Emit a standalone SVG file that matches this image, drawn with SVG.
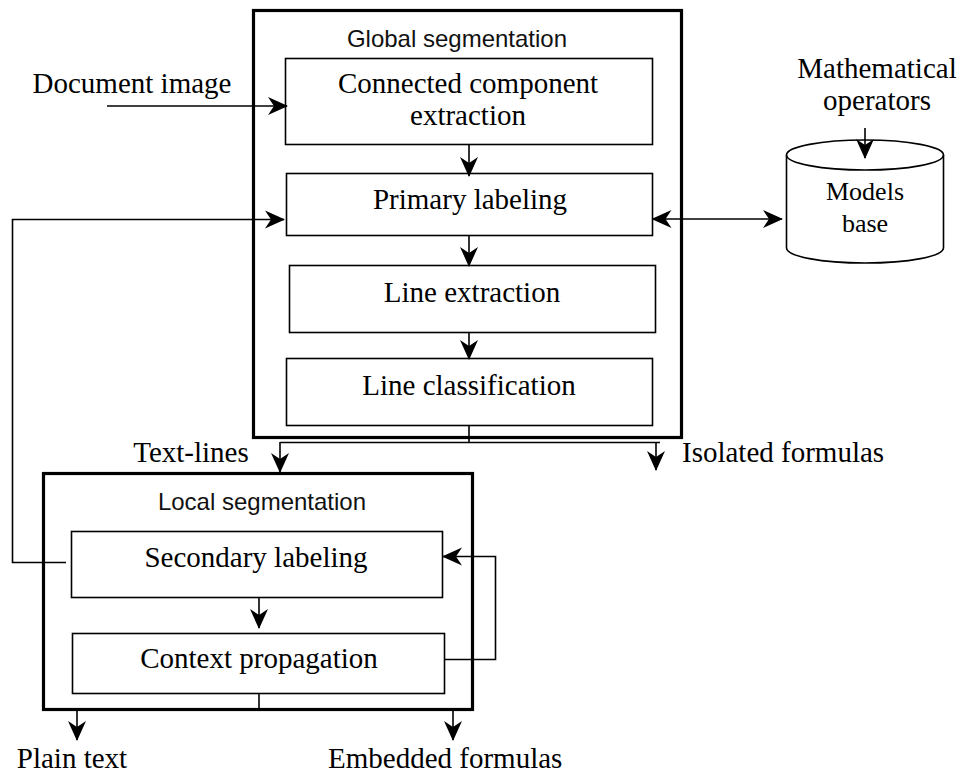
<svg xmlns="http://www.w3.org/2000/svg" width="961" height="775" viewBox="0 0 961 775">
<style>
.box{fill:#fff;stroke:#000;stroke-width:1.6}
.frame{fill:none;stroke:#000;stroke-width:3.2}
.ln{fill:none;stroke:#000;stroke-width:1.6}
.arr{marker-end:url(#ah)}
.serif{font-family:"Liberation Serif","Times New Roman",serif;font-size:29px;fill:#000}
.sans{font-family:"Liberation Sans",Arial,sans-serif;font-size:24px;fill:#111}
.mid{text-anchor:middle}
</style>
<defs>
<marker id="ah" viewBox="0 0 20 20" refX="19" refY="10" markerWidth="20" markerHeight="20" orient="auto-start-reverse" markerUnits="userSpaceOnUse">
<path d="M0,1 L20,10 L0,19 L6,10 Z" fill="#000"/>
</marker>
</defs>
<rect width="961" height="775" fill="#fff"/>

<g id="global-segmentation">
<rect class="frame" x="253.5" y="10.5" width="428" height="427"/>
<text class="sans mid" x="457" y="47">Global segmentation</text>
</g>
<g id="connected-component-extraction">
<rect class="box" x="285.5" y="58.5" width="367" height="86"/>
<text class="serif mid" x="468" y="93">Connected component</text>
<text class="serif mid" x="468" y="125">extraction</text>
</g>
<g id="primary-labeling">
<rect class="box" x="286.5" y="173.5" width="366" height="62"/>
<text class="serif mid" x="470" y="209">Primary labeling</text>
</g>
<g id="line-extraction">
<rect class="box" x="289.5" y="265.5" width="366" height="67"/>
<text class="serif mid" x="472" y="302">Line extraction</text>
</g>
<g id="line-classification">
<rect class="box" x="286.5" y="358.5" width="366" height="67"/>
<text class="serif mid" x="469" y="395">Line classification</text>
</g>
<g id="models-base">
<path class="ln" d="M786.5,155 L786.5,248 A78.5,15 0 0 0 943.5,248 L943.5,155" fill="#fff"/>
<ellipse class="ln" cx="865" cy="155" rx="78.5" ry="15" fill="#fff"/>
<text class="serif mid" style="font-size:26px" x="865" y="200">Models</text>
<text class="serif mid" style="font-size:26px" x="865" y="232">base</text>
</g>
<g id="local-segmentation">
<rect class="frame" x="43.5" y="473.5" width="429" height="236"/>
<text class="sans mid" x="262" y="510">Local segmentation</text>
</g>
<g id="secondary-labeling">
<rect class="box" x="71.5" y="531.5" width="371" height="66"/>
<text class="serif mid" x="256" y="567">Secondary labeling</text>
</g>
<g id="context-propagation">
<rect class="box" x="72.5" y="633.5" width="372" height="60"/>
<text class="serif mid" x="259" y="668">Context propagation</text>
</g>

<g id="labels">
<text class="serif mid" x="132" y="93">Document image</text>
<text class="serif mid" x="877" y="78">Mathematical</text>
<text class="serif mid" x="877" y="110">operators</text>
<text class="serif mid" x="191" y="462">Text-lines</text>
<text class="serif" x="682" y="462">Isolated formulas</text>
<text class="serif mid" x="72" y="768">Plain text</text>
<text class="serif" x="328" y="768">Embedded formulas</text>
</g>

<g id="connectors">
<path class="ln arr" d="M107,106 L287,106"/>
<path class="ln arr" d="M469,145 L469,176"/>
<path class="ln arr" d="M469,236 L469,266"/>
<path class="ln arr" d="M469,333 L469,359"/>
<path class="ln" d="M652.5,219 L782,219" marker-start="url(#ah)" marker-end="url(#ah)"/>
<path class="ln arr" d="M865,128 L865,158"/>
<path class="ln" d="M469,426 L469,442.5 M280,442.5 L660,442.5"/>
<path class="ln arr" d="M280,442 L280,472"/>
<path class="ln arr" d="M656,442 L656,470"/>
<path class="ln arr" d="M66,562.5 L12.5,562.5 L12.5,219.5 L284,219.5"/>
<path class="ln arr" d="M259,597 L259,628"/>
<path class="ln arr" d="M445,659.5 L495.5,659.5 L495.5,556.5 L443,556.5"/>
<path class="ln" d="M259,694 L259,710"/>
<path class="ln arr" d="M77,711 L77,740"/>
<path class="ln arr" d="M453,711 L453,740"/>
</g>
</svg>
